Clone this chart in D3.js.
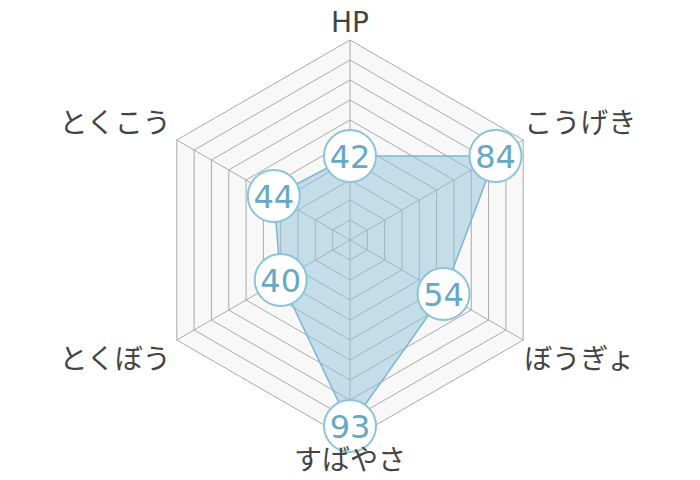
<!DOCTYPE html>
<html>
<head>
<meta charset="utf-8">
<script src="https://cdn.jsdelivr.net/npm/d3@7"></script>
<style>
  body { margin: 0; background: #fff; }
</style>
</head>
<body>
<div id="container"></div>
<script>
var stats = ["HP", "こうげき", "ぼうぎょ", "すばやさ", "とくぼう", "とくこう"];
var values = [42, 84, 54, 93, 40, 44];
var ringLevels = [10, 20, 30, 40, 50, 60, 70, 80, 90, 100];

var width = 700, height = 480;
var cx = 350, cy = 240;

var svg = d3
  .select("#container")
  .append("svg")
  .attr("width", width)
  .attr("height", height)
  .style("background-color", "#fff");

var r = d3.scaleLinear().domain([0, 100]).range([0, 200]);
var angle = d3.scaleLinear().domain([0, stats.length]).range([0, 2 * Math.PI]);

function pt(i, v) {
  var a = angle(i);
  return [cx + r(v) * Math.sin(a), cy - r(v) * Math.cos(a)];
}

var g = svg.append("g");

// background hexagon
g.append("polygon")
  .attr("points", stats.map((d, i) => pt(i, 100).join(",")).join(" "))
  .style("fill", "#f8f8f8");

// rings
g.selectAll("polygon.ring")
  .data(ringLevels)
  .enter()
  .append("polygon")
  .attr("class", "ring")
  .attr("points", lv => stats.map((d, i) => pt(i, lv).join(",")).join(" "))
  .style("fill", "none")
  .style("stroke", "#aaa")
  .style("stroke-width", 1);

// spokes
g.selectAll("line.spoke")
  .data(stats)
  .enter()
  .append("line")
  .attr("class", "spoke")
  .attr("x1", cx)
  .attr("y1", cy)
  .attr("x2", (d, i) => pt(i, 100)[0])
  .attr("y2", (d, i) => pt(i, 100)[1])
  .style("stroke", "#aaa")
  .style("stroke-width", 1);

// data area
g.append("polygon")
  .attr("points", values.map((v, i) => pt(i, v).join(",")).join(" "))
  .style("fill", "#8fc2d8")
  .style("fill-opacity", 0.5)
  .style("stroke", "#7fb6cf")
  .style("stroke-width", 1.5);

// value badges
var badge = g.selectAll("g.badge")
  .data(values)
  .enter()
  .append("g")
  .attr("class", "badge")
  .attr("transform", (v, i) => "translate(" + pt(i, v).join(",") + ")");

badge.append("circle")
  .attr("r", 26)
  .style("fill", "#fff")
  .style("stroke", "#88c4dc")
  .style("stroke-width", 2);

badge.append("text")
  .attr("text-anchor", "middle")
  .attr("dy", "0.36em")
  .style("font-family", "'DejaVu Sans', sans-serif")
  .style("font-size", "32px")
  .style("fill", "#66a8c6")
  .text(v => v);

// axis labels
svg.selectAll("text.label")
  .data(stats)
  .enter()
  .append("text")
  .attr("class", "label")
  .attr("x", (d, i) => {
    var p = pt(i, 100), s = Math.sin(angle(i));
    return p[0] + (Math.abs(s) < 0.01 ? 0 : s > 0 ? 1 : -6);
  })
  .attr("y", (d, i) => {
    var p = pt(i, 100), c = Math.cos(angle(i));
    if (c > 0.99) return p[1] - 8;
    if (c < -0.99) return p[1] + 30;
    return c > 0 ? p[1] - 7 : p[1] + 29;
  })
  .attr("text-anchor", (d, i) => {
    var s = Math.sin(angle(i));
    return Math.abs(s) < 0.01 ? "middle" : s > 0 ? "start" : "end";
  })
  .style("font-family", "'DejaVu Sans', 'Noto Sans CJK JP', sans-serif")
  .style("font-size", "28px")
  .style("fill", "#444")
  .text(d => d);
</script>
</body>
</html>
